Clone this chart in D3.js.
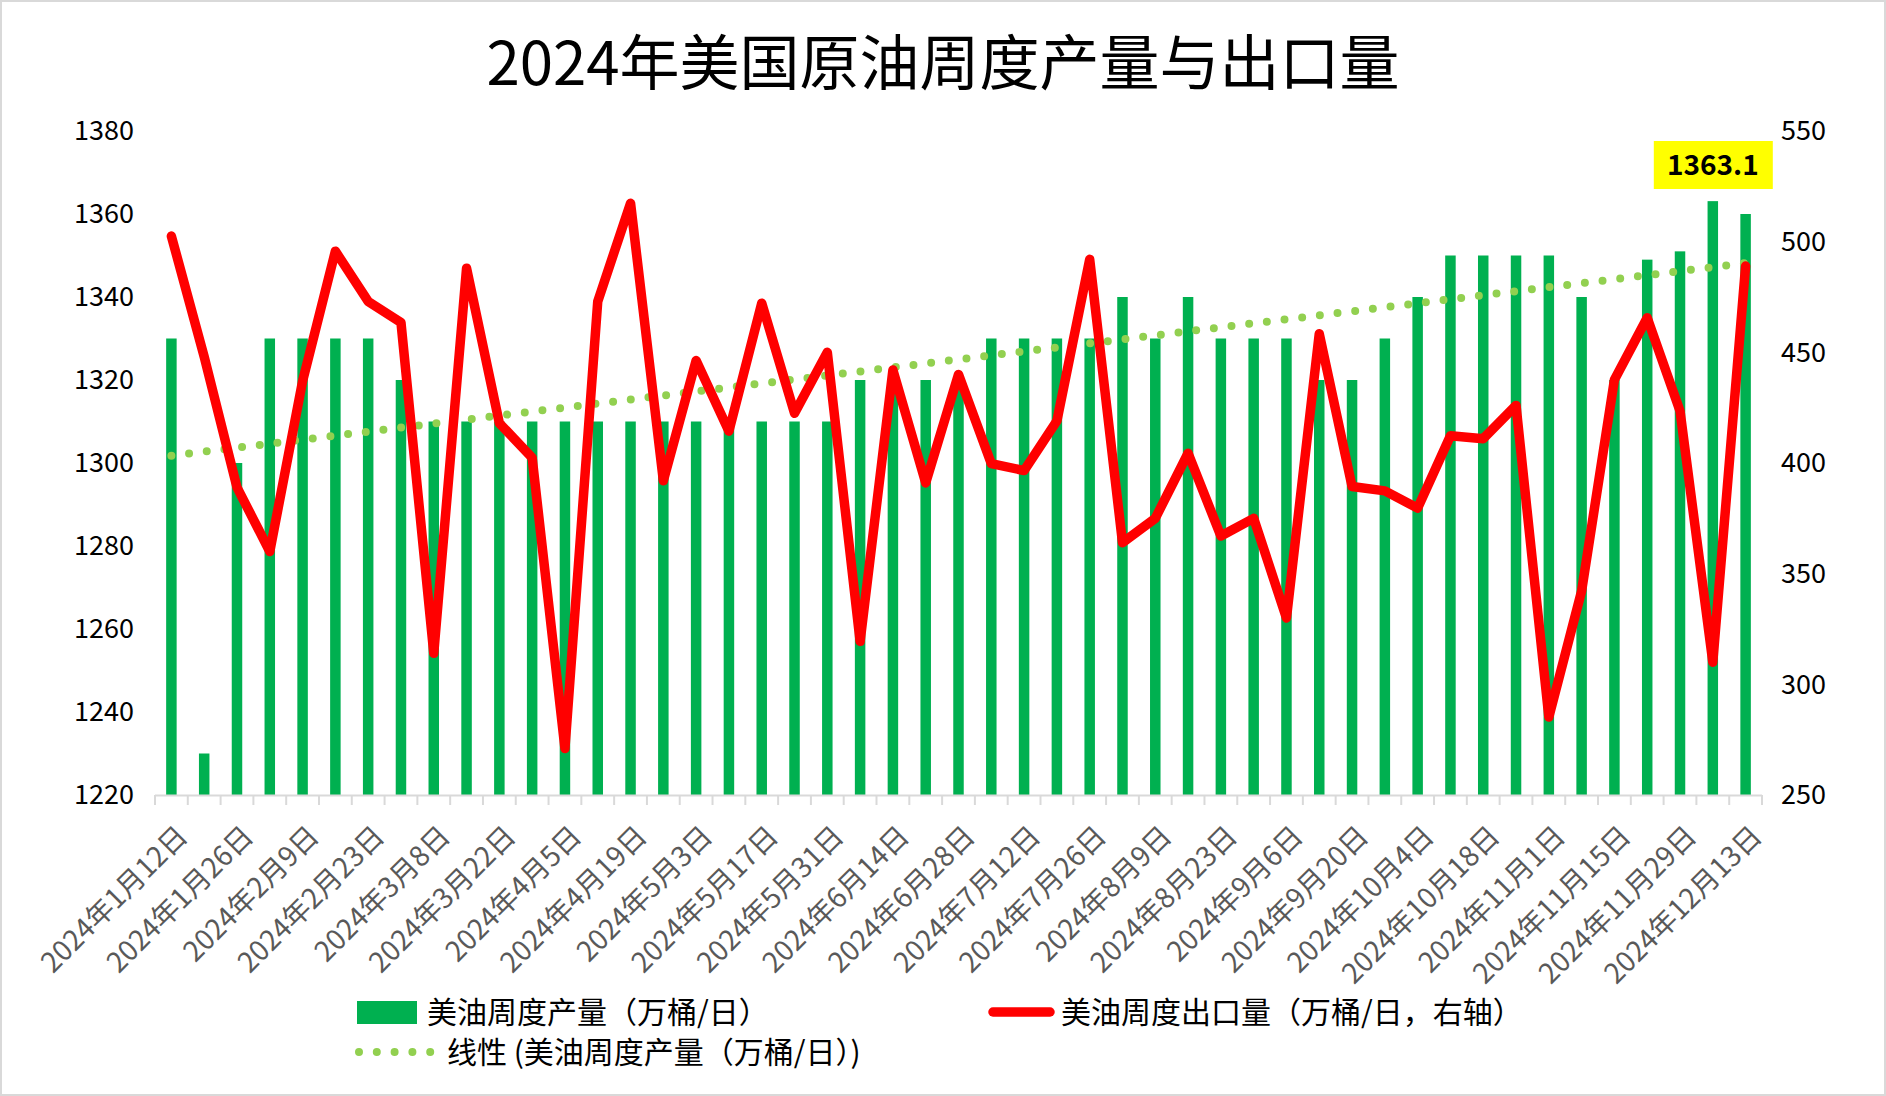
<!DOCTYPE html>
<html>
<head>
<meta charset="utf-8">
<script src="https://cdn.jsdelivr.net/npm/d3@7"></script>
<style>
  body { margin: 0; background: #fff; }
  text { font-family: "Noto Sans CJK SC", "Noto Sans", sans-serif; }
</style>
</head>
<body>
<div id="chart"></div>
<script>
var svgWidth = 1886;
var svgHeight = 1096;

// weekly dates (every Friday)
var weeks = ["2024年1月12日","2024年1月19日","2024年1月26日","2024年2月2日","2024年2月9日","2024年2月16日","2024年2月23日",
  "2024年3月1日","2024年3月8日","2024年3月15日","2024年3月22日","2024年3月29日","2024年4月5日","2024年4月12日",
  "2024年4月19日","2024年4月26日","2024年5月3日","2024年5月10日","2024年5月17日","2024年5月24日","2024年5月31日",
  "2024年6月7日","2024年6月14日","2024年6月21日","2024年6月28日","2024年7月5日","2024年7月12日","2024年7月19日",
  "2024年7月26日","2024年8月2日","2024年8月9日","2024年8月16日","2024年8月23日","2024年8月30日","2024年9月6日",
  "2024年9月13日","2024年9月20日","2024年9月27日","2024年10月4日","2024年10月11日","2024年10月18日","2024年10月25日",
  "2024年11月1日","2024年11月8日","2024年11月15日","2024年11月22日","2024年11月29日","2024年12月6日","2024年12月13日"];

// 美油周度产量 (万桶/日)
var production = [1330,1230,1300,1330,1330,1330,1330,1320,1310,1310,1310,1310,1310,1310,
  1310,1310,1310,1310,1310,1310,1310,1320,1320,1320,1320,1330,1330,1330,
  1330,1340,1330,1340,1330,1330,1330,1320,1320,1330,1340,1350,1350,1350,
  1350,1340,1320,1349,1351,1363.1,1360];

// 美油周度出口量 (万桶/日, 右轴)
var exports = [502.5,448,389,360,437,495.7,473,463.5,314,488,418,402.4,271,473,
  517.4,392,446.3,414.4,472.2,422.5,450,319.4,442,391,440,399.7,396.6,419,
  492,364,375,404.4,367,375,330,458.4,389.4,387.4,379.6,412.3,411,426,
  285.2,342.2,437.6,465.6,423.5,310,489];

var leftTicks = [1220,1240,1260,1280,1300,1320,1340,1360,1380];
var rightTicks = [250,300,350,400,450,500,550];
var peakLabel = "1363.1";

var svg = d3.select("#chart")
  .append("svg")
  .attr("width", svgWidth)
  .attr("height", svgHeight);

// outer border
svg.append("rect")
  .attr("x", 1).attr("y", 1)
  .attr("width", svgWidth - 2).attr("height", svgHeight - 2)
  .attr("fill", "#fff")
  .attr("stroke", "#d9d9d9")
  .attr("stroke-width", 2);

svg.append("text")
  .attr("x", 943)
  .attr("y", 85)
  .attr("text-anchor", "middle")
  .attr("font-size", 60)
  .attr("fill", "#000")
  .text("2024年美国原油周度产量与出口量");

// scales
var xScale = d3.scaleBand()
  .domain(weeks)
  .range([155, 1762])
  .paddingInner(0.68)
  .paddingOuter(0.34);

var yLeft = d3.scaleLinear().domain([1220, 1380]).range([795, 131]);
var yRight = d3.scaleLinear().domain([250, 550]).range([795, 131]);

// bars
svg.append("g").selectAll("rect")
  .data(production)
  .enter()
  .append("rect")
  .attr("x", function(d, i) { return xScale(weeks[i]); })
  .attr("y", function(d) { return yLeft(d); })
  .attr("width", xScale.bandwidth())
  .attr("height", function(d) { return yLeft(1220) - yLeft(d); })
  .attr("fill", "#00b050");

// linear trendline of production
var n = production.length;
var mx = d3.mean(production, function(d, i) { return i; });
var my = d3.mean(production);
var sxy = d3.sum(production, function(d, i) { return (i - mx) * (d - my); });
var sxx = d3.sum(production, function(d, i) { return (i - mx) * (i - mx); });
var slope = sxy / sxx;
var icpt = my - slope * mx;

var center = function(i) { return xScale(weeks[i]) + xScale.bandwidth() / 2; };

svg.append("path")
  .datum(d3.range(n))
  .attr("d", d3.line()
    .x(function(i) { return center(i); })
    .y(function(i) { return yLeft(icpt + slope * i); }))
  .attr("fill", "none")
  .attr("stroke", "#92d050")
  .attr("stroke-width", 8)
  .attr("stroke-linecap", "round")
  .attr("stroke-dasharray", "0 17.8");

// exports line (right axis)
svg.append("path")
  .datum(exports)
  .attr("d", d3.line()
    .x(function(d, i) { return center(i); })
    .y(function(d) { return yRight(d); }))
  .attr("fill", "none")
  .attr("stroke", "#ff0000")
  .attr("stroke-width", 9.5)
  .attr("stroke-linejoin", "round")
  .attr("stroke-linecap", "round");

// bottom axis line + ticks at band edges
var axisG = svg.append("g");
axisG.append("line")
  .attr("x1", 155).attr("x2", 1762)
  .attr("y1", 795.5).attr("y2", 795.5)
  .attr("stroke", "#d9d9d9").attr("stroke-width", 2);
axisG.selectAll(".tk")
  .data(d3.range(n + 1))
  .enter()
  .append("line")
  .attr("x1", function(i) { return 155 + i * xScale.step(); })
  .attr("x2", function(i) { return 155 + i * xScale.step(); })
  .attr("y1", 795).attr("y2", 805)
  .attr("stroke", "#d9d9d9").attr("stroke-width", 2);

// category labels, every other week
axisG.selectAll(".lbl")
  .data(weeks.filter(function(d, i) { return i % 2 === 0; }))
  .enter()
  .append("text")
  .attr("text-anchor", "end")
  .attr("font-size", 28)
  .attr("fill", "#595959")
  .attr("transform", function(d) {
    var cx = xScale(d) + xScale.bandwidth() / 2 + 18;
    return "translate(" + cx + ",838) rotate(-45)";
  })
  .text(function(d) { return d; });

// left axis labels
svg.append("g").selectAll("text")
  .data(leftTicks)
  .enter()
  .append("text")
  .attr("x", 134)
  .attr("y", function(d) { return yLeft(d); })
  .attr("dy", "0.35em")
  .attr("text-anchor", "end")
  .attr("font-size", 27)
  .attr("fill", "#000")
  .text(function(d) { return d; });

// right axis labels
svg.append("g").selectAll("text")
  .data(rightTicks)
  .enter()
  .append("text")
  .attr("x", 1781)
  .attr("y", function(d) { return yRight(d); })
  .attr("dy", "0.35em")
  .attr("text-anchor", "start")
  .attr("font-size", 27)
  .attr("fill", "#000")
  .text(function(d) { return d; });

// highlighted value label
var pk = production.indexOf(d3.max(production));
svg.append("rect")
  .attr("x", center(pk) - 59)
  .attr("y", 141)
  .attr("width", 119)
  .attr("height", 48)
  .attr("fill", "#ffff00");
svg.append("text")
  .attr("x", center(pk))
  .attr("y", 165)
  .attr("dy", "0.35em")
  .attr("text-anchor", "middle")
  .attr("font-size", 28)
  .attr("font-weight", "bold")
  .attr("fill", "#000")
  .text(peakLabel);

// legend
var legend = svg.append("g");
legend.append("rect")
  .attr("x", 357).attr("y", 1001)
  .attr("width", 60).attr("height", 23)
  .attr("fill", "#00b050");
legend.append("text")
  .attr("x", 427).attr("y", 1012)
  .attr("dy", "0.35em")
  .attr("font-size", 30)
  .attr("fill", "#000")
  .text("美油周度产量（万桶/日）");

legend.append("line")
  .attr("x1", 993).attr("x2", 1050)
  .attr("y1", 1012).attr("y2", 1012)
  .attr("stroke", "#ff0000").attr("stroke-width", 9.5)
  .attr("stroke-linecap", "round");
legend.append("text")
  .attr("x", 1061).attr("y", 1012)
  .attr("dy", "0.35em")
  .attr("font-size", 30)
  .attr("fill", "#000")
  .text("美油周度出口量（万桶/日，右轴）");

legend.append("line")
  .attr("x1", 359).attr("x2", 432)
  .attr("y1", 1052).attr("y2", 1052)
  .attr("stroke", "#92d050").attr("stroke-width", 8)
  .attr("stroke-linecap", "round")
  .attr("stroke-dasharray", "0 17.8");
legend.append("text")
  .attr("x", 447).attr("y", 1052)
  .attr("dy", "0.35em")
  .attr("font-size", 30)
  .attr("fill", "#000")
  .text("线性 (美油周度产量（万桶/日）)");
</script>
</body>
</html>
